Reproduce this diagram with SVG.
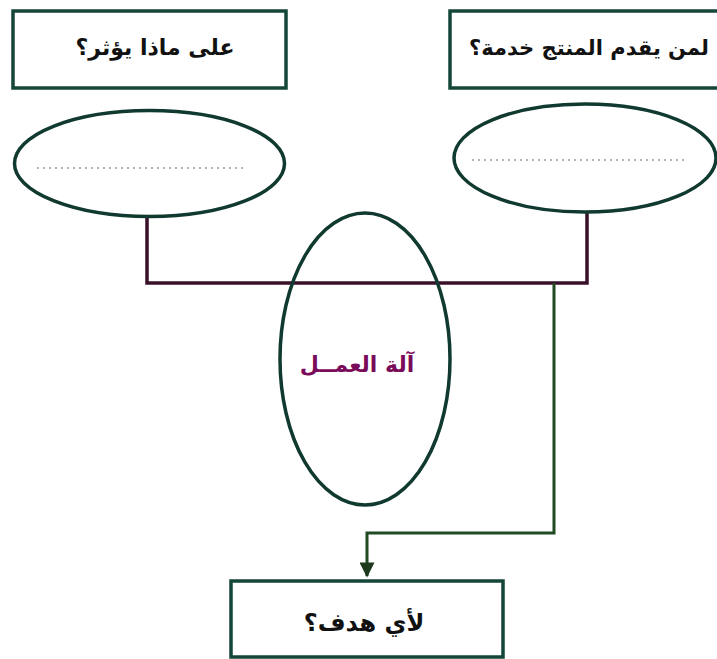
<svg xmlns="http://www.w3.org/2000/svg" width="717" height="659" viewBox="0 0 717 659">
<style>
.box{fill:#fff;stroke:#14473a;stroke-width:3.5}
.ell{fill:#fff;stroke:#10392f;stroke-width:3.5}
.lbl{font-family:"DejaVu Sans",sans-serif;font-weight:bold;font-size:22px;fill:#111;text-anchor:middle}
.dots{stroke:#999;stroke-width:1.5;stroke-dasharray:2 4}
</style>
<defs>
<marker id="arr" viewBox="0 0 10 10" refX="9" refY="5" markerWidth="7" markerHeight="5" orient="auto" markerUnits="strokeWidth">
<path d="M0,0 L10,5 L0,10 z" fill="#1d3a1d"/>
</marker>
</defs>
<rect width="717" height="659" fill="#fff"/>
<g id="connectors" fill="none">
<path d="M147,217 V283 H587 V212" stroke="#3a0f2a" stroke-width="3.5"/>
<path d="M554,283 V533 H367 V576" stroke="#1f4a22" stroke-width="3" marker-end="url(#arr)"/>
</g>
<g id="box-affect">
<rect class="box" x="13" y="11" width="273" height="77"/>
<text class="lbl" x="155" y="55" direction="rtl">على ماذا يؤثر؟</text>
</g>
<g id="box-service">
<rect class="box" x="450" y="11" width="290" height="77"/>
<text class="lbl" x="589" y="55" direction="rtl" style="font-size:21px">لمن يقدم المنتج خدمة؟</text>
</g>
<g id="ell-left">
<ellipse class="ell" cx="149.5" cy="163.5" rx="135" ry="53"/>
<line class="dots" x1="37" y1="168" x2="246" y2="168"/>
</g>
<g id="ell-right">
<ellipse class="ell" cx="585" cy="158" rx="131" ry="54"/>
<line class="dots" x1="472" y1="160" x2="686" y2="160"/>
</g>
<g id="ell-machine">
<ellipse class="ell" cx="365" cy="359" rx="85" ry="146" style="fill:none"/>
<text class="lbl" x="357" y="372" direction="rtl" style="fill:#7a0a5a">آلة العمــل</text>
</g>
<g id="box-goal">
<rect class="box" x="231" y="581" width="272" height="76"/>
<text class="lbl" x="364" y="631" direction="rtl" style="font-size:24px">لأي هدف؟</text>
</g>
</svg>
